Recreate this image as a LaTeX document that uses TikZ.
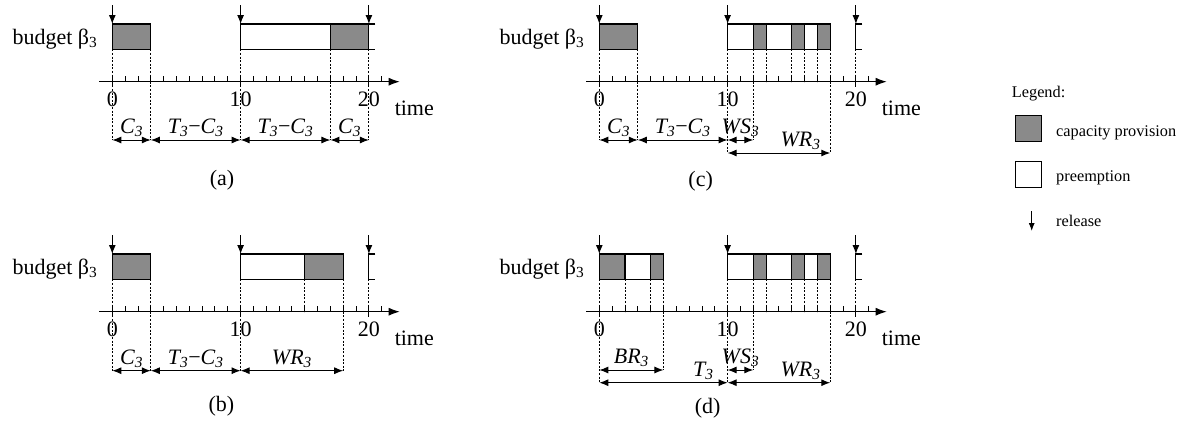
\documentclass[tikz,border=0pt]{standalone}
\usepackage{fontspec}
\setmainfont{Liberation Serif}
\usetikzlibrary{arrows.meta}

\definecolor{capgray}{gray}{0.54}
\newcommand{\bigfont}{\fontsize{22}{26}\selectfont}
\newcommand{\legfont}{\fontsize{16.3}{19}\selectfont}
\newcommand{\tsub}[1]{\textit{#1\textsubscript{3}}}

% axis, ticks, releases and the budget label of one panel
\newcommand{\panelbase}[1]{%
  \node[anchor=base east,inner sep=0pt,font=\bigfont] (#1-budget) at (-1.15,44) {budget β\textsubscript{3}};
  \draw[-{Latex[length=11pt,width=8pt]},line width=1pt] (-1,81.7) -- (22.4,81.7);
  \foreach \t in {1,...,21} \draw[line width=0.9pt] (\t,81.7) -- (\t,76);
  \foreach \t in {0,10,20} {
    \draw[line width=0.9pt] (\t,75) -- (\t,87);
    \node[anchor=base,inner sep=0pt,font=\bigfont] (#1-n\t) at (\t,106.7) {\t};
    \draw[release] (\t,5) -- (\t,24);
  }
  \node[anchor=base west,inner sep=0pt,font=\bigfont] (#1-time) at (22,115) {time};
  \draw[line width=1.1pt] (20.5,24) -- (20,24) -- (20,49.3) -- (20.5,49.3);
}

\begin{document}
\begin{tikzpicture}[x=1pt,y=-1pt,
  capbox/.style={draw,line width=1.1pt,fill=capgray},
  prebox/.style={draw,line width=1.1pt,fill=white},
  guide/.style={line width=0.9pt,dash pattern=on 2pt off 1.6pt},
  span/.style={{Latex[length=9pt,width=7pt]}-{Latex[length=9pt,width=7pt]},line width=1pt},
  release/.style={-{Latex[length=9pt,width=7pt]},line width=1pt},
  dimlbl/.style={anchor=base,yshift=6.5pt,inner sep=0pt,font=\bigfont}]
  \useasboundingbox (0,0) rectangle (1196,423);

  % (a)
  \begin{scope}[shift={(112.3pt,0pt)},x=12.83pt,y=-1pt]
    \panelbase{a}
    \foreach \l/\r/\s in {0/3/capbox,10/17/prebox,17/20/capbox}
      \draw[\s] (\l,24) rectangle (\r,49.3);
    \foreach \g in {0,3,10,17,20} \draw[guide] (\g,49.3) -- (\g,140);
    \draw[span] (0,140) -- (3,140) node[dimlbl,midway] (a-d1) {\tsub{C}};
    \draw[span] (3,140) -- (10,140) node[dimlbl,midway] (a-d2) {\tsub{T}−\tsub{C}};
    \draw[span] (10,140) -- (17,140) node[dimlbl,midway] (a-d3) {\tsub{T}−\tsub{C}};
    \draw[span] (17,140) -- (20,140) node[dimlbl,midway] (a-d4) {\tsub{C}};
    \node[font=\bigfont] (a-cap) at (8.55,180) {(a)};
  \end{scope}

  % (b)
  \begin{scope}[shift={(112.3pt,-230pt)},x=12.83pt,y=-1pt]
    \panelbase{b}
    \foreach \l/\r/\s in {0/3/capbox,10/15/prebox,15/18/capbox}
      \draw[\s] (\l,24) rectangle (\r,49.3);
    \foreach \g/\e in {0/140.7,3/140.7,10/140.7,18/140.7,15/81.7,20/81.7}
      \draw[guide] (\g,49.3) -- (\g,\e);
    \draw[span] (0,140.7) -- (3,140.7) node[dimlbl,midway] (b-d1) {\tsub{C}};
    \draw[span] (3,140.7) -- (10,140.7) node[dimlbl,midway] (b-d2) {\tsub{T}−\tsub{C}};
    \draw[span] (10,140.7) -- (18,140.7) node[dimlbl,midway] (b-d3) {\tsub{WR}};
    \node[font=\bigfont] (b-cap) at (8.5,176.7) {(b)};
  \end{scope}

  % (c)
  \begin{scope}[shift={(599.3pt,0pt)},x=12.83pt,y=-1pt]
    \panelbase{c}
    \foreach \l/\r/\s in {0/3/capbox,10/12/prebox,12/13/capbox,13/15/prebox,
                          15/16/capbox,16/17/prebox,17/18/capbox}
      \draw[\s] (\l,24) rectangle (\r,49.3);
    \foreach \g/\e in {0/140,3/140,12/140,10/153,18/153,13/81.7,15/81.7,16/81.7,17/81.7,20/81.7}
      \draw[guide] (\g,49.3) -- (\g,\e);
    \draw[span] (0,140) -- (3,140) node[dimlbl,midway] (c-d1) {\tsub{C}};
    \draw[span] (3,140) -- (10,140) node[dimlbl,midway] (c-d2) {\tsub{T}−\tsub{C}};
    \draw[span] (10,140) -- (12,140) node[dimlbl,midway] (c-d3) {\tsub{WS}};
    \draw[span] (10,153) -- (18,153) node[dimlbl,pos=0.71] (c-d4) {\tsub{WR}};
    \node[font=\bigfont] (c-cap) at (7.9,181.7) {(c)};
  \end{scope}

  % (d)
  \begin{scope}[shift={(599.3pt,-230pt)},x=12.83pt,y=-1pt]
    \panelbase{d}
    \foreach \l/\r/\s in {0/2/capbox,2/4/prebox,4/5/capbox,10/12/prebox,12/13/capbox,
                          13/15/prebox,15/16/capbox,16/17/prebox,17/18/capbox}
      \draw[\s] (\l,24) rectangle (\r,49.3);
    \foreach \g/\e in {0/152.7,10/152.7,18/152.7,5/140,12/140,2/81.7,4/81.7,
                       13/81.7,15/81.7,16/81.7,17/81.7,20/81.7}
      \draw[guide] (\g,49.3) -- (\g,\e);
    \draw[span] (0,140) -- (5,140) node[dimlbl,midway] (d-d1) {\tsub{BR}};
    \draw[span] (10,140) -- (12,140) node[dimlbl,midway] (d-d2) {\tsub{WS}};
    \draw[span] (0,152.7) -- (10,152.7) node[dimlbl,pos=0.81] (d-d3) {\tsub{T}};
    \draw[span] (10,152.7) -- (18,152.7) node[dimlbl,pos=0.71] (d-d4) {\tsub{WR}};
    \node[font=\bigfont] (d-cap) at (8.45,178.3) {(d)};
  \end{scope}

  % legend
  \node[anchor=base west,inner sep=0pt,font=\legfont] (leg) at (1011.7,97) {Legend:};
  \draw[capbox,line width=1pt] (1015,115) rectangle (1041,141);
  \draw[prebox,line width=1pt] (1015,161) rectangle (1041,187);
  \coordinate (rtop) at (1031.7,211);
  \coordinate (rbot) at (1031.7,231);
  \draw[-{Latex[length=8pt,width=6pt]},line width=0.9pt] (rtop) -- (rbot);
  \node[anchor=base west,inner sep=0pt,font=\legfont] (leg-cap) at (1056,136) {capacity provision};
  \node[anchor=base west,inner sep=0pt,font=\legfont] (leg-pre) at (1056,181.7) {preemption};
  \node[anchor=base west,inner sep=0pt,font=\legfont] (leg-rel) at (1056,226.7) {release};
\end{tikzpicture}
\end{document}
